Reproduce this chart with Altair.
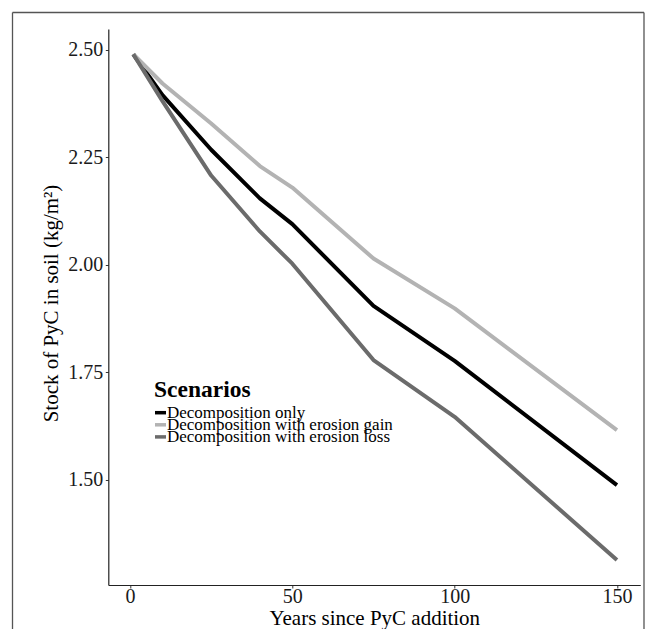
import altair as alt
import pandas as pd

# ---- data ----
years = [1, 10, 25, 40, 50, 75, 100, 150]
decomp_only = [2.49, 2.395, 2.268, 2.155, 2.095, 1.905, 1.777, 1.488]
decomp_gain = [2.49, 2.422, 2.329, 2.230, 2.180, 2.015, 1.899, 1.616]
decomp_loss = [2.49, 2.381, 2.208, 2.078, 2.003, 1.779, 1.647, 1.314]
scenarios = ["Decomposition only",
             "Decomposition with erosion gain",
             "Decomposition with erosion loss"]
colors = ["#000000", "#b3b3b3", "#6b6b6b"]
x_ticks = [0, 50, 100, 150]
y_ticks = [1.50, 1.75, 2.00, 2.25, 2.50]
legend_title = "Scenarios"

rows = []
for name, vals in zip(scenarios, [decomp_only, decomp_gain, decomp_loss]):
    for yr, v in zip(years, vals):
        rows.append({"year": yr, "stock": v, "scenario": name})
df = pd.DataFrame(rows)
leg = pd.DataFrame({"scenario": scenarios})

FONT = "Liberation Serif"
color_scale = alt.Scale(domain=scenarios, range=colors)

lines = alt.Chart(df).mark_line(strokeWidth=4, strokeJoin="round").encode(
    x=alt.X("year:Q",
            scale=alt.Scale(domain=[-6.7, 157.2], nice=False, zero=False),
            axis=alt.Axis(values=x_ticks, format="d", title="Years since PyC addition",
                          titleFont=FONT, titleFontSize=21, titleFontWeight="normal",
                          titleColor="black", titleBaseline="alphabetic", titleY=40, titleX=266,
                          labelFont=FONT, labelFontSize=20, labelColor="#1a1a1a",
                          labelBaseline="alphabetic", labelPadding=15, labelFlush=False,
                          labelOverlap=False, tickSize=3, tickColor="#333333",
                          domainColor="#222222", domainWidth=1.2, grid=False)),
    y=alt.Y("stock:Q",
            scale=alt.Scale(domain=[1.2558, 2.5488], nice=False, zero=False),
            axis=alt.Axis(values=y_ticks, format=".2f", title="Stock of PyC in soil (kg/m²)",
                          titleFont=FONT, titleFontSize=21, titleFontWeight="normal",
                          titleColor="black", titleAngle=270, titleBaseline="alphabetic",
                          titleAlign="center", titleX=-51, titleY=274,
                          labelFont=FONT, labelFontSize=20, labelColor="#1a1a1a",
                          labelPadding=2.5, labelFlush=False, labelOverlap=False,
                          tickSize=3, tickColor="#333333",
                          domainColor="#222222", domainWidth=1.2, grid=False)),
    color=alt.Color("scenario:N", scale=color_scale, legend=None),
)

# ---- legend (ggplot-style, tightly spaced rows) ----
leg_y = alt.Y("scenario:N",
              scale=alt.Scale(type="point", domain=scenarios, range=[383.7, 407.9], padding=0),
              axis=None)
leg_keys = alt.Chart(leg).mark_rule(strokeWidth=3.5).encode(
    x=alt.value(46.7), x2=alt.value(57.7), y=leg_y,
    color=alt.Color("scenario:N", scale=color_scale, legend=None))
leg_labels = alt.Chart(leg).mark_text(
    align="left", baseline="middle", font=FONT, fontSize=17, color="black").encode(
    x=alt.value(58.6), y=leg_y, text="scenario:N")
leg_title = alt.Chart(pd.DataFrame({"t": [legend_title]})).mark_text(
    align="left", baseline="alphabetic", font=FONT, fontSize=23.5, fontWeight="bold",
    color="black").encode(x=alt.value(45.7), y=alt.value(368), text="t:N")

dummy = pd.DataFrame({"k": [0]})
bcol = "#555555"
border_top = alt.Chart(dummy).mark_rule(color=bcol, strokeWidth=1.3).encode(
    x=alt.value(-95.8), x2=alt.value(535.7), y=alt.value(-16.5))
border_left = alt.Chart(dummy).mark_rule(color=bcol, strokeWidth=1.3).encode(
    x=alt.value(-95.8), y=alt.value(-16.5), y2=alt.value(620))
border_right = alt.Chart(dummy).mark_rule(color=bcol, strokeWidth=1.3).encode(
    x=alt.value(535.7), y=alt.value(-16.5), y2=alt.value(620))

chart = alt.layer(lines, leg_keys, leg_labels, leg_title,
                  border_top, border_left, border_right).resolve_scale(
    y="independent").properties(
    width=532, height=556,
    padding={"left": 100.3, "top": 21, "right": 5, "bottom": 44},
    autosize="none",
).configure(background="white").configure_view(stroke=None)

chart.save("out.html", embed_options={"renderer": "svg", "actions": False})
